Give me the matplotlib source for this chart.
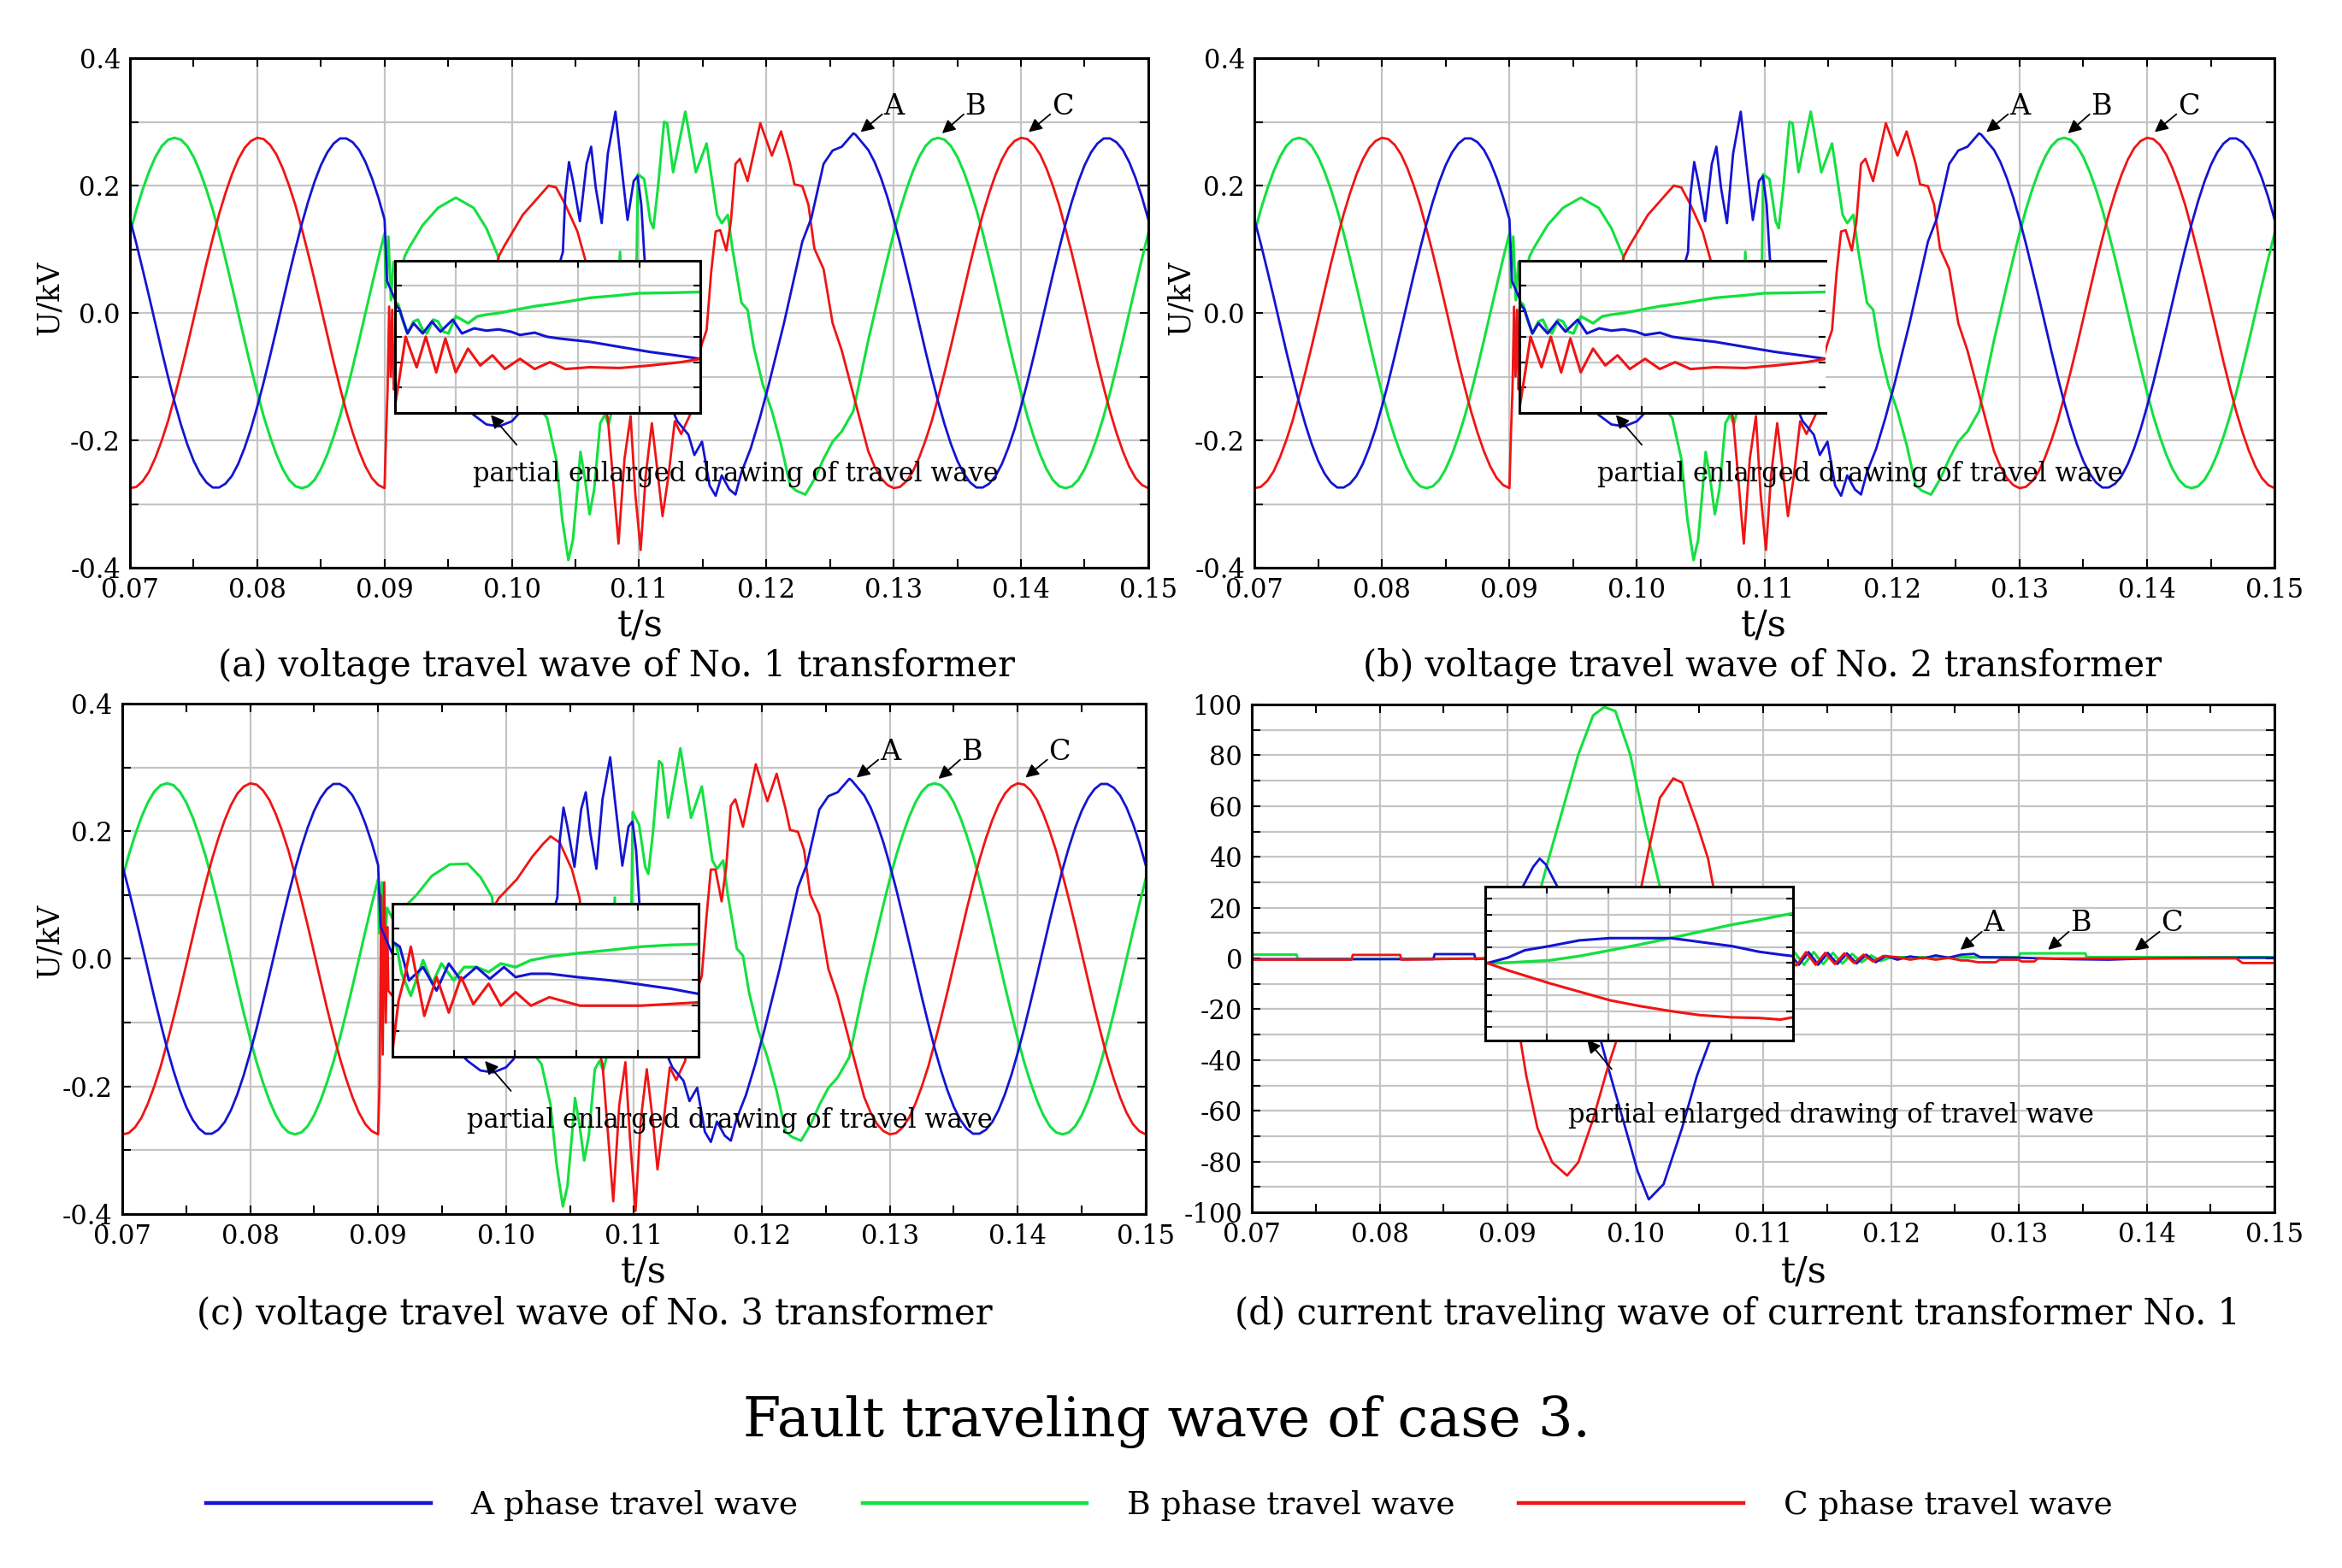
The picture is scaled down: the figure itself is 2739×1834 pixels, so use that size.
import matplotlib
matplotlib.use("Agg")
import matplotlib.pyplot as plt
from matplotlib.lines import Line2D

plt.rcParams['font.family'] = ['DejaVu Serif']
plt.rcParams['axes.unicode_minus'] = False

BLUE = '#1414d2'
GREEN = '#14e040'
RED = '#f01414'
GRID = '#c4c4c4'

# ---------------- voltage travel waves (kV), panels a, b, c ----------------
t_pre = [0.0700, 0.0705, 0.0710, 0.0715, 0.0720, 0.0725, 0.0730, 0.0735, 0.0740, 0.0745,
         0.0750, 0.0755, 0.0760, 0.0765, 0.0770, 0.0775, 0.0780, 0.0785, 0.0790, 0.0795,
         0.0800, 0.0805, 0.0810, 0.0815, 0.0820, 0.0825, 0.0830, 0.0835, 0.0840, 0.0845,
         0.0850, 0.0855, 0.0860, 0.0865, 0.0870, 0.0875, 0.0880, 0.0885, 0.0890, 0.0895,
         0.0900]
ua_pre = [0.147, 0.109, 0.068, 0.026, -0.017, -0.060, -0.101, -0.140, -0.175, -0.206,
          -0.232, -0.252, -0.266, -0.274, -0.274, -0.268, -0.256, -0.237, -0.212, -0.182,
          -0.147, -0.109, -0.068, -0.026, 0.017, 0.060, 0.101, 0.140, 0.175, 0.206,
          0.232, 0.252, 0.266, 0.274, 0.274, 0.268, 0.256, 0.237, 0.212, 0.182,
          0.147]
ub_pre = [0.125, 0.162, 0.194, 0.222, 0.245, 0.262, 0.272, 0.275, 0.272, 0.262,
          0.245, 0.222, 0.194, 0.162, 0.125, 0.085, 0.043, 0.0, -0.043, -0.085,
          -0.125, -0.162, -0.194, -0.222, -0.245, -0.262, -0.272, -0.275, -0.272, -0.262,
          -0.245, -0.222, -0.194, -0.162, -0.125, -0.085, -0.043, 0.0, 0.043, 0.085,
          0.125]
uc_pre = [-0.275, -0.273, -0.264, -0.249, -0.227, -0.200, -0.169, -0.132, -0.093, -0.052,
          -0.009, 0.034, 0.077, 0.117, 0.155, 0.188, 0.217, 0.241, 0.259, 0.270,
          0.275, 0.273, 0.264, 0.249, 0.227, 0.200, 0.169, 0.132, 0.093, 0.052,
          0.009, -0.034, -0.077, -0.117, -0.155, -0.188, -0.217, -0.241, -0.259, -0.270,
          -0.275]

ta_fault = [0.0902, 0.0930, 0.0960, 0.0970, 0.0980, 0.0990, 0.1000, 0.1006, 0.1020, 0.1035,
            0.10401, 0.10420, 0.10449, 0.10480, 0.10535, 0.10587, 0.10623, 0.10659, 0.10706, 0.10754,
            0.10814, 0.10850, 0.10909, 0.10957, 0.10988, 0.11017, 0.11041, 0.1108, 0.1115, 0.1130,
            0.11387, 0.11434, 0.11494, 0.11554, 0.11601, 0.11649, 0.11709, 0.11757, 0.11804, 0.11876,
            0.11948, 0.12019, 0.12138, 0.12282, 0.12353, 0.12449, 0.12520, 0.12592, 0.12683]
ua_fault = [0.05, -0.08, -0.14, -0.160, -0.175, -0.178, -0.170, -0.157, -0.05, 0.06,
            0.096, 0.186, 0.237, 0.207, 0.144, 0.234, 0.261, 0.197, 0.141, 0.250,
            0.316, 0.250, 0.146, 0.207, 0.215, 0.170, 0.090, 0.0, -0.1, -0.17,
            -0.191, -0.223, -0.202, -0.271, -0.287, -0.255, -0.277, -0.285, -0.250, -0.213,
            -0.165, -0.112, -0.016, 0.112, 0.149, 0.234, 0.255, 0.261, 0.282]

tb_fault = [0.0901, 0.0903, 0.0905, 0.0907, 0.0912, 0.0916, 0.0920, 0.0930, 0.0942, 0.0956,
            0.0970, 0.0980, 0.0989, 0.0995, 0.1010, 0.1022, 0.10277, 0.10348, 0.10396, 0.10444,
            0.10480, 0.10515, 0.10539, 0.10575, 0.10611, 0.10647, 0.10694, 0.10730, 0.10760, 0.10790,
            0.10830, 0.10850, 0.10870, 0.10900, 0.10960, 0.10975, 0.10990, 0.11040, 0.11088, 0.11112,
            0.11148, 0.11196, 0.11220, 0.11267, 0.11363, 0.11446, 0.11530, 0.11613, 0.11649, 0.11697,
            0.11733, 0.11804, 0.11852, 0.11900, 0.11971, 0.12043, 0.12115, 0.12186, 0.12234, 0.12306,
            0.12377, 0.12449, 0.12520, 0.12592, 0.12683]
ub_fault = [0.04, 0.12, 0.02, 0.08, 0.06, 0.09, 0.105, 0.138, 0.165, 0.181,
            0.165, 0.133, 0.090, 0.0, -0.12, -0.15, -0.165, -0.229, -0.324, -0.388,
            -0.356, -0.277, -0.218, -0.261, -0.316, -0.277, -0.173, -0.160, -0.175, -0.15,
            0.0, 0.096, 0.0, -0.1, -0.05, 0.0, 0.218, 0.210, 0.144, 0.133,
            0.197, 0.300, 0.298, 0.221, 0.316, 0.221, 0.266, 0.154, 0.141, 0.154,
            0.101, 0.016, 0.005, -0.053, -0.112, -0.154, -0.207, -0.271, -0.279, -0.285,
            -0.261, -0.229, -0.202, -0.186, -0.154]
# panel (c): smaller B hump after the fault
ub_fault_3 = [0.04, 0.12, 0.02, 0.08, 0.06, 0.07, 0.08, 0.100, 0.130, 0.148,
              0.149, 0.128, 0.097, 0.0, -0.12, -0.15, -0.165, -0.229, -0.324, -0.388,
              -0.356, -0.277, -0.218, -0.261, -0.316, -0.277, -0.173, -0.160, -0.175, -0.15,
              0.0, 0.096, 0.0, -0.1, -0.05, 0.0, 0.230, 0.210, 0.144, 0.133,
              0.197, 0.310, 0.305, 0.221, 0.330, 0.221, 0.270, 0.154, 0.141, 0.154,
              0.101, 0.016, 0.005, -0.053, -0.112, -0.154, -0.207, -0.271, -0.279, -0.285,
              -0.261, -0.229, -0.202, -0.186, -0.154]

tc_fault = [0.09012, 0.09024, 0.09036, 0.09048, 0.09060, 0.09072, 0.0908, 0.0920, 0.0960, 0.0985,
            0.0990, 0.09943, 0.10086, 0.10205, 0.10289, 0.10348, 0.10420, 0.10515, 0.10575, 0.10650,
            0.10720, 0.10754, 0.10838, 0.10885, 0.10933, 0.10969, 0.11012, 0.11052, 0.11100, 0.11148,
            0.11184, 0.11231, 0.11280, 0.11330, 0.11400, 0.11450, 0.11494, 0.11530, 0.11566, 0.11601,
            0.11637, 0.11685, 0.11721, 0.11757, 0.11792, 0.11852, 0.11952, 0.12043, 0.12115, 0.12186,
            0.12220, 0.12282, 0.12330, 0.12377, 0.12449, 0.12520, 0.12592, 0.12683]
uc_fault = [-0.19, -0.12, 0.01, -0.10, 0.005, -0.12, -0.05, -0.08, -0.05, 0.05,
            0.090, 0.106, 0.154, 0.181, 0.200, 0.197, 0.170, 0.128, 0.085, -0.05,
            -0.14, -0.165, -0.362, -0.229, -0.162, -0.282, -0.372, -0.255, -0.173, -0.255,
            -0.319, -0.255, -0.17, -0.19, -0.16, -0.08, -0.048, -0.027, 0.064, 0.128,
            0.130, 0.098, 0.144, 0.234, 0.242, 0.207, 0.298, 0.247, 0.285, 0.234,
            0.202, 0.199, 0.170, 0.101, 0.069, -0.016, -0.059, -0.128]
uc_fault_3 = [-0.19, 0.10, -0.15, 0.12, -0.10, 0.05, -0.05, -0.08, -0.05, 0.05,
              0.080, 0.095, 0.125, 0.160, 0.180, 0.192, 0.182, 0.140, 0.095, -0.05,
              -0.14, -0.165, -0.380, -0.229, -0.162, -0.282, -0.395, -0.255, -0.173, -0.255,
              -0.330, -0.255, -0.17, -0.19, -0.16, -0.08, -0.048, -0.027, 0.064, 0.140,
              0.140, 0.090, 0.144, 0.240, 0.250, 0.207, 0.305, 0.247, 0.290, 0.234,
              0.202, 0.199, 0.170, 0.101, 0.069, -0.016, -0.059, -0.128]

ta_post = [0.1270, 0.1275, 0.1280, 0.1285, 0.1290, 0.1295, 0.1300, 0.1305, 0.1310, 0.1315,
           0.1320, 0.1325, 0.1330, 0.1335, 0.1340, 0.1345, 0.1350, 0.1355, 0.1360, 0.1365,
           0.1370, 0.1375, 0.1380, 0.1385, 0.1390, 0.1395, 0.1400, 0.1405, 0.1410, 0.1415,
           0.1420, 0.1425, 0.1430, 0.1435, 0.1440, 0.1445, 0.1450, 0.1455, 0.1460, 0.1465,
           0.1470, 0.1475, 0.1480, 0.1485, 0.1490, 0.1495, 0.1500]
ua_post = [0.280, 0.268, 0.256, 0.237, 0.212, 0.182, 0.147, 0.109, 0.068, 0.026,
           -0.017, -0.060, -0.101, -0.140, -0.175, -0.206, -0.232, -0.252, -0.266, -0.274,
           -0.274, -0.268, -0.256, -0.237, -0.212, -0.182, -0.147, -0.109, -0.068, -0.026,
           0.017, 0.060, 0.101, 0.140, 0.175, 0.206, 0.232, 0.252, 0.266, 0.274,
           0.274, 0.268, 0.256, 0.237, 0.212, 0.182, 0.147]
tbc_post = [0.1280, 0.1285, 0.1290, 0.1295, 0.1300, 0.1305, 0.1310, 0.1315,
            0.1320, 0.1325, 0.1330, 0.1335, 0.1340, 0.1345, 0.1350, 0.1355, 0.1360, 0.1365,
            0.1370, 0.1375, 0.1380, 0.1385, 0.1390, 0.1395, 0.1400, 0.1405, 0.1410, 0.1415,
            0.1420, 0.1425, 0.1430, 0.1435, 0.1440, 0.1445, 0.1450, 0.1455, 0.1460, 0.1465,
            0.1470, 0.1475, 0.1480, 0.1485, 0.1490, 0.1495, 0.1500]
ub_post = [-0.043, 0.0, 0.043, 0.085, 0.125, 0.162, 0.194, 0.222,
           0.245, 0.262, 0.272, 0.275, 0.272, 0.262, 0.245, 0.222, 0.194, 0.162,
           0.125, 0.085, 0.043, 0.0, -0.043, -0.085, -0.125, -0.162, -0.194, -0.222,
           -0.245, -0.262, -0.272, -0.275, -0.272, -0.262, -0.245, -0.222, -0.194, -0.162,
           -0.125, -0.085, -0.043, 0.0, 0.043, 0.085, 0.125]
uc_post = [-0.217, -0.241, -0.259, -0.270, -0.275, -0.273, -0.264, -0.249,
           -0.227, -0.200, -0.169, -0.132, -0.093, -0.052, -0.009, 0.034, 0.077, 0.117,
           0.155, 0.188, 0.217, 0.241, 0.259, 0.270, 0.275, 0.273, 0.264, 0.249,
           0.227, 0.200, 0.169, 0.132, 0.093, 0.052, 0.009, -0.034, -0.077, -0.117,
           -0.155, -0.188, -0.217, -0.241, -0.259, -0.270, -0.275]

# zoomed view inside the voltage insets (inset units: x 0..5, y 0..6)
ins_a_x = [0, 0.08, 0.21, 0.31, 0.46, 0.61, 0.75, 0.95, 1.10, 1.30, 1.50, 1.70, 1.90, 2.05,
           2.29, 2.49, 2.69, 3.19, 3.68, 4.18, 4.68, 5.00]
ins_a_y = [4.33, 4.07, 3.13, 3.53, 3.13, 3.60, 3.20, 3.67, 3.13, 3.33, 3.24, 3.29, 3.20, 3.07,
           3.16, 3.00, 2.93, 2.80, 2.60, 2.40, 2.24, 2.13]
ins_b_x = [0, 0.06, 0.13, 0.21, 0.31, 0.38, 0.46, 0.53, 0.63, 0.71, 0.80, 0.88, 1.00, 1.10,
           1.20, 1.35, 1.50, 1.70, 2.00, 2.29, 2.69, 3.19, 3.68, 3.98, 4.48, 5.00]
ins_b_y = [4.40, 4.27, 3.67, 3.13, 3.60, 3.67, 3.27, 3.13, 3.67, 3.60, 3.20, 3.13, 3.80, 3.67,
           3.53, 3.80, 3.87, 3.93, 4.07, 4.20, 4.33, 4.53, 4.63, 4.71, 4.73, 4.76]
ins_c_x = [0, 0.08, 0.18, 0.36, 0.51, 0.68, 0.83, 1.00, 1.20, 1.40, 1.60, 1.80, 2.05, 2.29,
           2.54, 2.79, 3.19, 3.68, 4.18, 4.68, 5.00]
ins_c_y = [0.20, 1.40, 3.00, 1.80, 3.00, 1.60, 2.93, 1.60, 2.53, 1.87, 2.27, 1.73, 2.13, 1.73,
           2.00, 1.73, 1.80, 1.77, 1.87, 2.00, 2.13]
# inset of panel (c)
ins3_a_x = [0, 0.12, 0.27, 0.50, 0.72, 0.92, 1.12, 1.37, 1.59, 1.82, 2.01, 2.26, 2.56, 3.01,
            3.56, 3.96, 4.55, 5.00]
ins3_a_y = [4.50, 4.30, 2.98, 3.50, 2.58, 3.64, 2.98, 3.50, 3.04, 3.50, 3.11, 3.24, 3.24, 3.11,
            2.98, 2.85, 2.65, 2.45]
ins3_b_x = [0, 0.07, 0.15, 0.30, 0.50, 0.65, 0.80, 1.00, 1.17, 1.37, 1.57, 1.77, 2.01, 2.26,
            2.56, 3.01, 3.56, 4.05, 4.55, 5.00]
ins3_b_y = [4.44, 4.30, 3.25, 2.38, 3.77, 2.85, 3.64, 2.98, 3.50, 3.50, 3.31, 3.64, 3.50, 3.77,
            3.91, 4.04, 4.17, 4.30, 4.37, 4.40]
ins3_c_x = [0, 0.10, 0.20, 0.30, 0.52, 0.72, 0.92, 1.12, 1.32, 1.57, 1.77, 2.01, 2.26, 2.56,
            3.06, 3.56, 4.05, 5.00]
ins3_c_y = [0.20, 2.19, 3.11, 4.30, 1.59, 3.11, 1.72, 3.11, 2.05, 2.85, 1.99, 2.52, 1.99, 2.32,
            1.99, 1.99, 1.99, 2.12]

# ---------------- current travel wave, panel d ----------------
ia_t = [0.0700, 0.0842, 0.0843, 0.0874, 0.0875, 0.0883, 0.0895, 0.0905, 0.09119, 0.0920,
        0.09252, 0.0930, 0.09393, 0.0955, 0.0965, 0.09728, 0.09786, 0.09902, 0.10018, 0.10105,
        0.10221, 0.10366, 0.10482, 0.10587, 0.1080, 0.1110, 0.1121, 0.1128, 0.11355, 0.1143,
        0.11505, 0.1158, 0.11655, 0.1173, 0.11805, 0.1188, 0.1196, 0.1205, 0.1215, 0.1225,
        0.1235, 0.1245, 0.1255, 0.1265, 0.1270, 0.1300, 0.1320, 0.1340, 0.1370, 0.1400,
        0.1450, 0.1500]
ia_v = [-0.3, -0.3, 1.7, 1.7, -0.3, 0.0, 12, 24, 28.2, 36,
        39.3, 37, 28, 5, -20, -32, -42.7, -63.2, -83.8, -94.9,
        -88.9, -66.7, -46.2, -32, -10, -1, 1.5, -2.5, 2.5, -2.5,
        2.2, -2.2, 2.0, -2.0, 1.5, -1.5, 1.0, -0.5, 0.8, 0.0,
        1.2, 0.3, 1.5, 1.8, 0.5, 0.3, 0.0, -0.3, -0.5, 0.0,
        0.3, 0.3]
ib_t = [0.0700, 0.0735, 0.0736, 0.0883, 0.0905, 0.09263, 0.09322, 0.09438, 0.09554, 0.0967,
        0.09757, 0.09844, 0.0996, 0.10076, 0.10192, 0.1040, 0.1080, 0.1121, 0.11245, 0.1132,
        0.11395, 0.1147, 0.11545, 0.1162, 0.11695, 0.1177, 0.11845, 0.1192, 0.1200, 0.1300,
        0.1301, 0.1352, 0.1353, 0.1500]
ib_v = [1.5, 1.5, -0.3, 0.0, 15, 28.2, 39.3, 59.8, 80.3, 95.7,
        99, 97.4, 80.3, 53, 28.2, 0, -8, 0, 2.5, -2.5,
        2.5, -2.2, 2.2, -2.0, 1.8, -1.5, 1.2, -1.0, 0.5, 0.5,
        2.0, 2.0, 0.5, 0.5]
ic_t = [0.0700, 0.0778, 0.0779, 0.0816, 0.0817, 0.0883, 0.0895, 0.09101, 0.09147, 0.09234,
        0.0935, 0.09466, 0.09554, 0.0967, 0.09786, 0.09855, 0.0995, 0.10047, 0.10105, 0.10192,
        0.10297, 0.10366, 0.10482, 0.10569, 0.1061, 0.1080, 0.1121, 0.1126, 0.11335, 0.1141,
        0.11485, 0.1156, 0.11635, 0.1171, 0.11785, 0.1186, 0.1194, 0.1205, 0.1215, 0.1225,
        0.1235, 0.1245, 0.1255, 0.1260, 0.1268, 0.1282, 0.1285, 0.1300, 0.1302, 0.1312,
        0.1315, 0.1470, 0.1475, 0.1500]
ic_v = [-0.5, -0.5, 1.4, 1.4, -0.5, 0.0, -15, -32, -46.2, -66.7,
        -80.3, -85.5, -80.3, -63.2, -42.7, -32, 0, 28.2, 42.7, 63.2,
        70.9, 69.2, 53, 39.3, 28.2, 5, -1, -2.8, 2.5, -2.5,
        2.2, -2.2, 2.0, -1.8, 1.5, -1.2, 1.0, 0.5, -0.5, 0.3,
        -0.5, 0.2, -0.8, -0.8, -1.5, -1.5, -0.5, -0.5, -1.2, -1.2,
        0.0, 0.0, -1.8, -1.8]

# zoomed view inside the current inset (inset units: x 0..5)
ins_ia_x = [0.035, 0.37, 0.64, 1.04, 1.53, 2.03, 2.5, 3.01, 3.3, 3.65, 4.01, 4.45, 4.8, 5.0]
ins_ia_y = [3.99, 4.34, 4.79, 5.05, 5.41, 5.55, 5.55, 5.55, 5.41, 5.23, 5.05, 4.70, 4.52, 4.43]
ins_ib_x = [0.035, 0.37, 1.04, 1.53, 2.03, 2.5, 3.01, 3.48, 4.01, 4.45, 5.0]
ins_ib_y = [3.99, 4.02, 4.16, 4.43, 4.79, 5.14, 5.55, 5.94, 6.39, 6.69, 7.10]
ins_ic_x = [0.035, 0.37, 1.04, 1.53, 2.03, 2.5, 3.01, 3.48, 4.01, 4.45, 4.8, 5.0]
ins_ic_y = [3.99, 3.54, 2.74, 2.21, 1.67, 1.32, 1.0, 0.75, 0.61, 0.57, 0.47, 0.61]

x_ticks = [0.07, 0.08, 0.09, 0.10, 0.11, 0.12, 0.13, 0.14, 0.15]
x_labels = ['0.07', '0.08', '0.09', '0.10', '0.11', '0.12', '0.13', '0.14', '0.15']
x_minor = [0.075, 0.085, 0.095, 0.105, 0.115, 0.125, 0.135, 0.145]
u_ticks = [-0.4, -0.2, 0.0, 0.2, 0.4]
u_labels = ['-0.4', '-0.2', '0.0', '0.2', '0.4']
u_minor = [-0.3, -0.1, 0.1, 0.3]
i_ticks = [-100, -80, -60, -40, -20, 0, 20, 40, 60, 80, 100]
i_labels = ['-100', '-80', '-60', '-40', '-20', '0', '20', '40', '60', '80', '100']
i_minor = [-90, -70, -50, -30, -10, 10, 30, 50, 70, 90]

phase_names = ['A', 'B', 'C']
captions = ['(a) voltage travel wave of No. 1 transformer',
            '(b) voltage travel wave of No. 2 transformer',
            '(c) voltage travel wave of No. 3 transformer',
            '(d) current traveling wave of current transformer No. 1']
legend_labels = ['A phase travel wave', 'B phase travel wave', 'C phase travel wave']
note = 'partial enlarged drawing of travel wave'

fig = plt.figure(figsize=(27.39, 18.34), dpi=100)
ARROW = dict(arrowstyle='-|>', color='black', lw=1.3, mutation_scale=23, shrinkA=0, shrinkB=0)


def style_axes(ax, ylim, yt, ylab, ymin):
    ax.set_xlim(0.07, 0.15)
    ax.set_ylim(*ylim)
    ax.set_xticks(x_ticks)
    ax.set_xticklabels(x_labels)
    ax.set_xticks(x_minor, minor=True)
    ax.set_yticks(yt)
    ax.set_yticklabels(ylab)
    ax.set_yticks(ymin, minor=True)
    ax.grid(True, which='major', axis='x', color=GRID, lw=1.6)
    ax.grid(True, which='both', axis='y', color=GRID, lw=1.6)
    ax.set_axisbelow(True)
    ax.tick_params(which='both', direction='in', top=True, right=True, length=7, width=1.5,
                   labelsize=22, pad=8)
    for s in ax.spines.values():
        s.set_linewidth(2.2)


def style_inset(ins, ylim, yt, right=True):
    ins.set_xlim(0, 5)
    ins.set_ylim(*ylim)
    ins.set_xticks([1, 2, 3, 4])
    ins.set_yticks(yt)
    ins.grid(True, color=GRID, lw=1.6)
    ins.set_axisbelow(True)
    ins.tick_params(direction='in', top=True, right=True, length=6, width=1.5,
                    labelbottom=False, labelleft=False)
    for s in ins.spines.values():
        s.set_linewidth(2.2)
    if not right:
        ins.spines['right'].set_visible(False)


def voltage_panel(rect, ub_f, uc_f, ins_lines, ins_box, right_border=True):
    ax = fig.add_axes(rect)
    style_axes(ax, (-0.4, 0.4), u_ticks, u_labels, u_minor)
    ax.plot(t_pre + tb_fault + tbc_post, ub_pre + ub_f + ub_post, color=GREEN, lw=2.2)
    ax.plot(t_pre + tc_fault + tbc_post, uc_pre + uc_f + uc_post, color=RED, lw=2.0)
    ax.plot(t_pre + ta_fault + ta_post, ua_pre + ua_fault + ua_post, color=BLUE, lw=2.0)
    ins = ax.inset_axes(ins_box, transform=ax.transData)
    style_inset(ins, (0, 6), [1, 2, 3, 4, 5], right_border)
    (ax_x, ax_y), (bx_x, bx_y), (cx_x, cx_y) = ins_lines
    ins.plot(bx_x, bx_y, color=GREEN, lw=2.4)
    ins.plot(ax_x, ax_y, color=BLUE, lw=2.2)
    ins.plot(cx_x, cx_y, color=RED, lw=2.2)
    ax.annotate('', xy=(0.09835, -0.160), xytext=(0.10038, -0.207), arrowprops=ARROW)
    ax.text(0.09692, -0.253, note, fontsize=22, ha='left', va='center')
    tips = [(0.1274, 0.284), (0.1338, 0.282), (0.1406, 0.284)]
    lefts = [0.1292, 0.1356, 0.1424]
    for name, tip, lx in zip(phase_names, tips, lefts):
        ax.annotate('', xy=tip, xytext=(lx - 0.0001, 0.312), arrowprops=ARROW)
        ax.text(lx, 0.323, name, fontsize=24, ha='left', va='center')
    return ax


lines_12 = [(ins_a_x, ins_a_y), (ins_b_x, ins_b_y), (ins_c_x, ins_c_y)]
lines_3 = [(ins3_a_x, ins3_a_y), (ins3_b_x, ins3_b_y), (ins3_c_x, ins3_c_y)]
voltage_panel([0.0555, 0.6379, 0.4348, 0.3250], ub_fault, uc_fault, lines_12,
              [0.09079, -0.157, 0.02403, 0.2394])
voltage_panel([0.5356, 0.6379, 0.4356, 0.3250], ub_fault, uc_fault, lines_12,
              [0.09079, -0.157, 0.02403, 0.2394], right_border=False)
voltage_panel([0.0522, 0.2257, 0.4370, 0.3256], ub_fault_3, uc_fault_3, lines_3,
              [0.09112, -0.153, 0.02395, 0.2400])

# current panel
axd = fig.add_axes([0.5345, 0.2268, 0.4367, 0.3239])
style_axes(axd, (-100, 100), i_ticks, i_labels, i_minor)
axd.plot(ib_t, ib_v, color=GREEN, lw=2.2)
axd.plot(ia_t, ia_v, color=BLUE, lw=2.0)
axd.plot(ic_t, ic_v, color=RED, lw=2.0)
insd = axd.inset_axes([0.08826, -32.4, 0.02406, 60.6], transform=axd.transData)
style_inset(insd, (-0.85, 8.75), [0, 1, 2, 3, 4, 5, 6, 7, 8])
insd.plot(ins_ib_x, ins_ib_y, color=GREEN, lw=2.4)
insd.plot(ins_ia_x, ins_ia_y, color=BLUE, lw=2.2)
insd.plot(ins_ic_x, ins_ic_y, color=RED, lw=2.2)
axd.annotate('', xy=(0.09623, -32.0), xytext=(0.09815, -43.6), arrowprops=ARROW)
axd.text(0.09476, -61.8, note, fontsize=22, ha='left', va='center')
d_tips = [(0.12543, 3.4), (0.13228, 3.4), (0.13907, 3.1)]
d_lefts = [0.1272, 0.1340, 0.1411]
for name, tip, lx in zip(phase_names, d_tips, d_lefts):
    axd.annotate('', xy=tip, xytext=(lx - 0.0001, 10.5), arrowprops=ARROW)
    axd.text(lx, 13.7, name, fontsize=24, ha='left', va='center')

# axis labels and captions
for x, y in [(0.0212, 0.810), (0.504, 0.810), (0.0212, 0.400)]:
    fig.text(x, y, 'U/kV', rotation=90, fontsize=25, ha='center', va='center')
for x, y in [(0.2735, 0.6009), (0.7532, 0.6009), (0.2749, 0.1887), (0.7704, 0.1887)]:
    fig.text(x, y, 't/s', fontsize=31, ha='center', va='center')
for cap, (x, y) in zip(captions, [(0.2632, 0.5752), (0.7525, 0.5752),
                                  (0.2538, 0.1619), (0.7418, 0.1619)]):
    fig.text(x, y, cap, fontsize=30, ha='center', va='center')

fig.text(0.498, 0.0932, 'Fault traveling wave of case 3.', fontsize=46, ha='center', va='center')

handles = [Line2D([], [], color=c, lw=3.2) for c in (BLUE, GREEN, RED)]
fig.legend(handles, legend_labels, loc='center', bbox_to_anchor=(0.4950, 0.0398), ncol=3,
           frameon=False, fontsize=27, handlelength=7.0, handletextpad=1.25, columnspacing=2.0)

fig.savefig('out.png', dpi=100, facecolor='white')
